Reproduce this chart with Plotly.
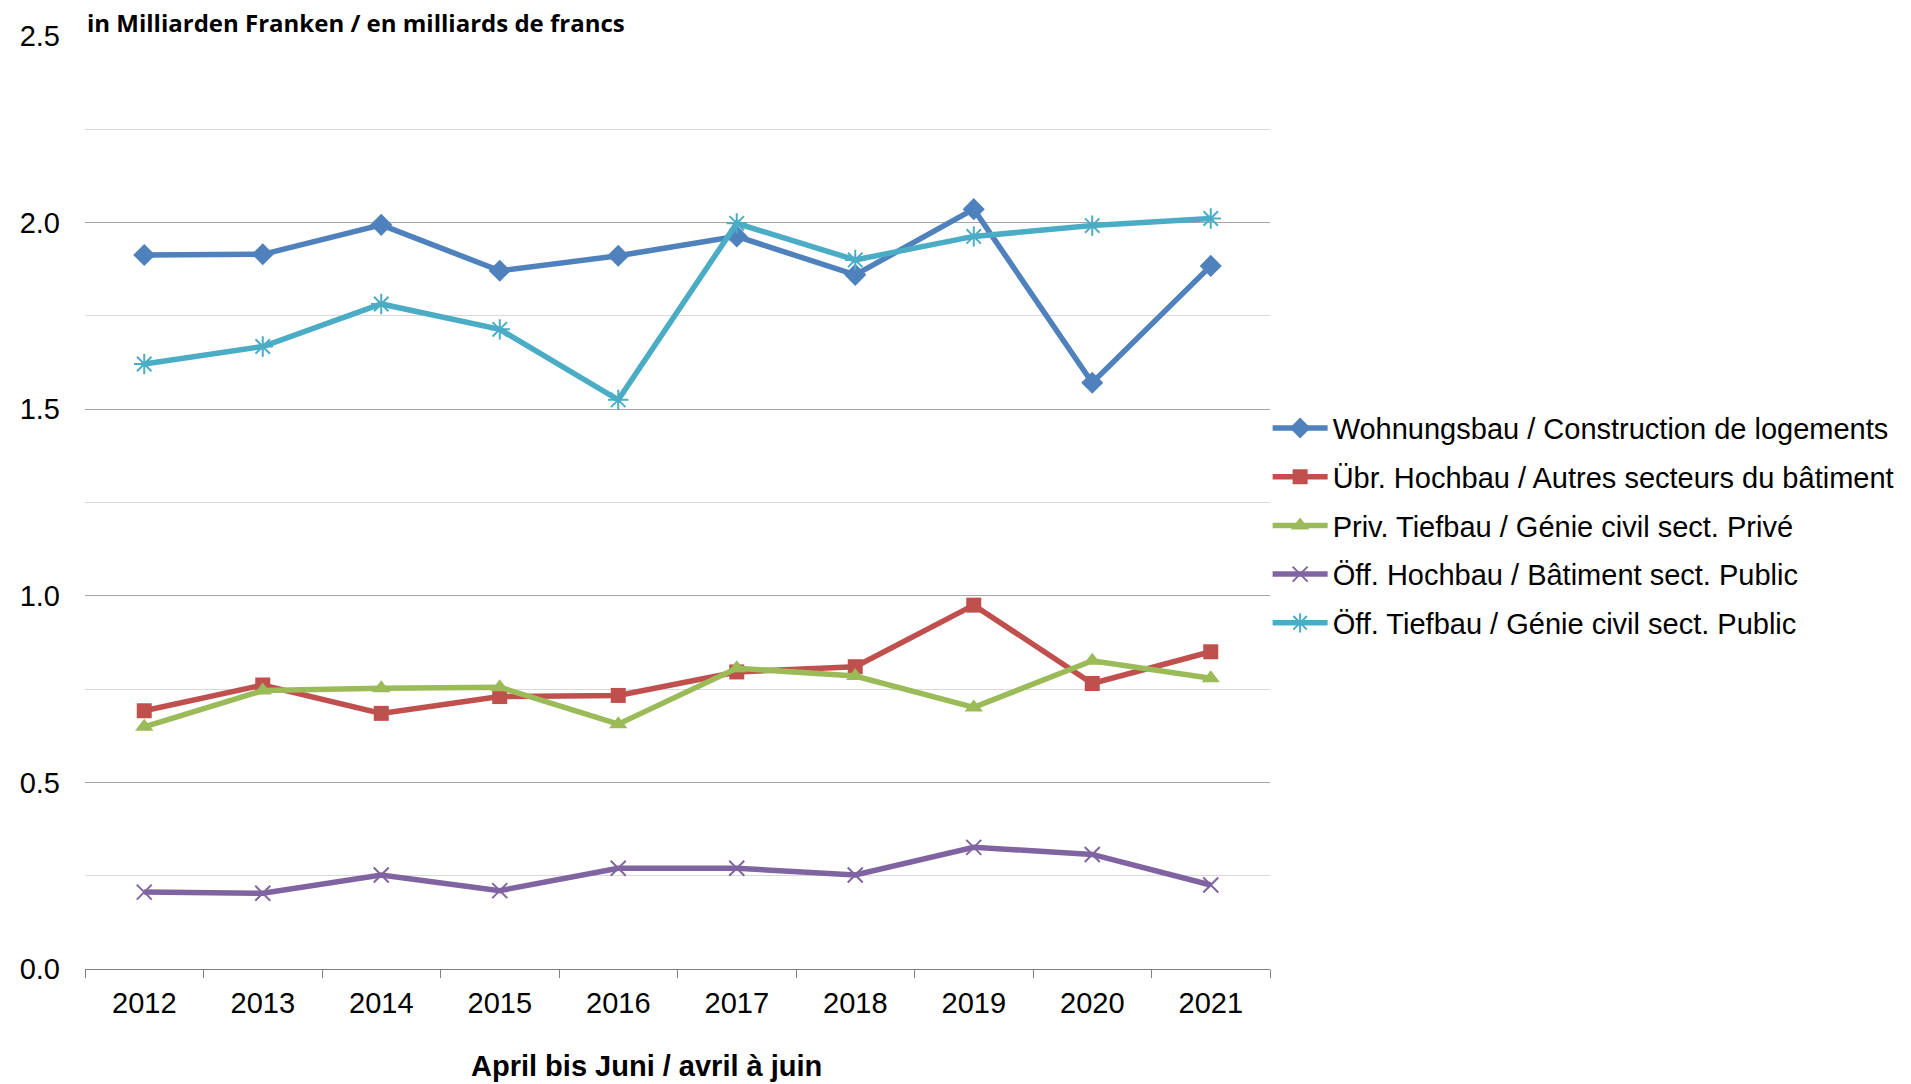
import plotly.graph_objects as go

years = ["2012", "2013", "2014", "2015", "2016", "2017", "2018", "2019", "2020", "2021"]

wohnungsbau = [1.913, 1.915, 1.994, 1.871, 1.911, 1.963, 1.860, 2.036, 1.571, 1.884]
uebr_hochbau = [0.692, 0.761, 0.685, 0.730, 0.733, 0.796, 0.810, 0.975, 0.765, 0.850]
priv_tiefbau = [0.649, 0.746, 0.752, 0.755, 0.656, 0.806, 0.785, 0.701, 0.826, 0.779]
oeff_hochbau = [0.206, 0.203, 0.252, 0.210, 0.270, 0.270, 0.252, 0.326, 0.307, 0.225]
oeff_tiefbau = [1.621, 1.668, 1.782, 1.714, 1.525, 1.998, 1.900, 1.963, 1.992, 2.011]

series_names = [
    "Wohnungsbau / Construction de logements",
    "Übr. Hochbau / Autres secteurs du bâtiment",
    "Priv. Tiefbau / Génie civil sect. Privé",
    "Öff. Hochbau / Bâtiment sect. Public",
    "Öff. Tiefbau / Génie civil sect. Public",
]
series_values = [wohnungsbau, uebr_hochbau, priv_tiefbau, oeff_hochbau, oeff_tiefbau]
colors = ["#4f81bd", "#c0504d", "#9bbb59", "#8064a2", "#4bacc6"]
symbols = ["diamond", "square", "triangle-up", "x-thin-open", "asterisk-open"]
marker_sizes = [17, 15, 16, 15, 17]

title_text = "in Milliarden Franken / en milliards de francs"
xaxis_title = "April bis Juni / avril à juin"

FONT = "Liberation Sans, Arial, sans-serif"

fig = go.Figure()
for i, (name, vals) in enumerate(zip(series_names, series_values)):
    sym = symbols[i]
    open_sym = sym.endswith("open")
    fig.add_trace(go.Scatter(
        x=years, y=vals, name=name, mode="lines+markers",
        legendgroup=f"g{i}",
        line=dict(color=colors[i], width=5.5),
        marker=dict(symbol=sym, size=marker_sizes[i], color=colors[i],
                    line=dict(color=colors[i], width=2 if open_sym else 0)),
    ))

fig.update_layout(
    width=1903, height=1076,
    margin=dict(l=64, r=634, t=26, b=115),
    paper_bgcolor="white", plot_bgcolor="white",
    font=dict(family=FONT, size=29, color="#000000"),
    showlegend=True,
    legend=dict(
        x=0.998, xanchor="left", y=0.607, yanchor="top",
        font=dict(size=29, family=FONT),
        tracegroupgap=8, itemwidth=55,
        bgcolor="rgba(0,0,0,0)",
    ),
    xaxis=dict(
        type="category", range=[-0.5, len(years) - 0.5],
        showgrid=False, showline=True, linecolor="#808080", linewidth=1,
        ticks="outside", tickson="boundaries", ticklen=8, tickcolor="#808080",
        ticklabelstandoff=8, tickfont=dict(size=29),
    ),
    yaxis=dict(
        range=[0, 2.5], dtick=0.5, tickformat=".1f", showline=False,
        showgrid=True, gridcolor="#a6a6a6", gridwidth=1, zeroline=False,
        minor=dict(dtick=0.25, showgrid=True, gridcolor="#d9d9d9", gridwidth=1),
        ticks="", ticklabelstandoff=24, tickfont=dict(size=29),
    ),
    annotations=[
        dict(text=f"<b>{title_text}</b>", xref="paper", yref="paper", x=0.0, y=1.0,
             xanchor="left", yanchor="bottom", yshift=-5, xshift=0, showarrow=False,
             font=dict(family="Open Sans, sans-serif", size=24, color="#000000")),
        dict(text=f"<b>{xaxis_title}</b>", xref="paper", yref="paper", x=0.474, y=0,
             xanchor="center", yanchor="middle", yshift=-97, showarrow=False,
             font=dict(family=FONT, size=29, color="#000000")),
    ],
)

fig.write_html("out.html")
